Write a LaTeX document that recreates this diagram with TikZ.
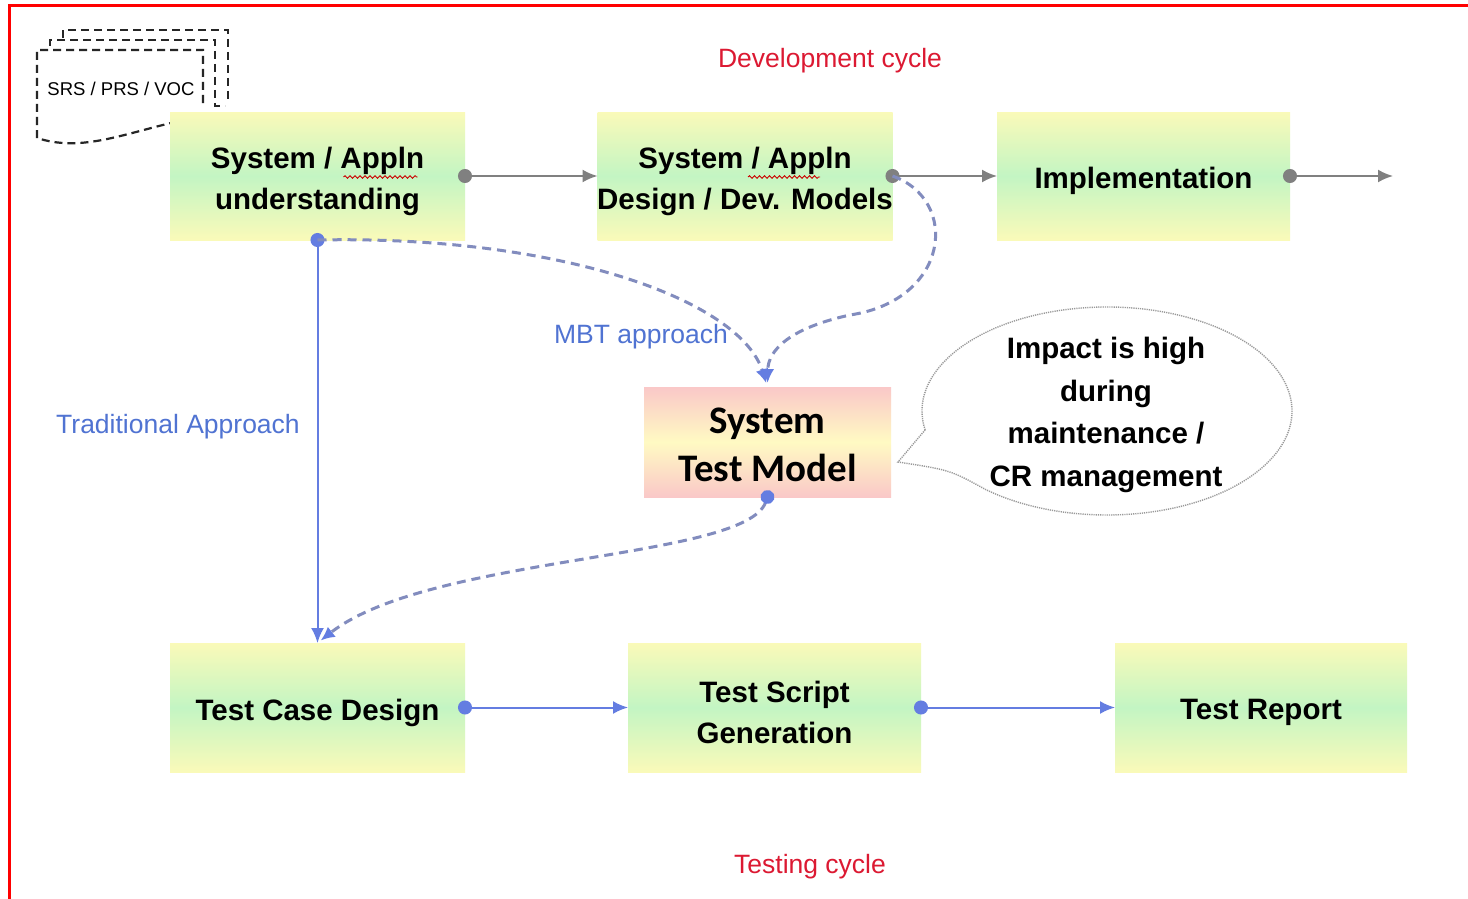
\documentclass[tikz,border=0pt]{standalone}
\usepackage{fontspec}
\setmainfont{Liberation Sans}
\newfontfamily\modelfont{Carlito}
\usetikzlibrary{arrows.meta,decorations.pathmorphing}

\definecolor{boxyel}{RGB}{250,250,185}
\definecolor{boxgrn}{RGB}{195,245,195}
\definecolor{modpink}{RGB}{250,200,200}
\definecolor{modyel}{RGB}{255,250,195}
\definecolor{devgray}{RGB}{128,128,128}
\definecolor{tstblue}{RGB}{100,125,225}
\definecolor{mbtdash}{RGB}{130,140,190}
\definecolor{lblblue}{RGB}{80,115,210}
\definecolor{cycred}{RGB}{220,25,50}

\begin{document}
\begin{tikzpicture}[x=1pt,y=-1pt]
\tikzset{ >=Latex, inner sep=0pt, outer sep=0pt,
  stage/.style={top color=boxyel, bottom color=boxyel, middle color=boxgrn,
    minimum width=295pt, minimum height=128pt},
  stagetext/.style={align=center, yshift=-5pt,
    font=\bfseries\fontsize{29.5}{41}\selectfont},
  model/.style={top color=modpink, bottom color=modpink, middle color=modyel,
    minimum width=247pt, minimum height=110pt},
  modeltext/.style={align=center, yshift=-3pt,
    font=\modelfont\bfseries\fontsize{39}{48}\selectfont},
  devarrow/.style={devgray, line width=2pt, shorten <=-7pt,
    {Circle[length=14pt]}-{Latex[length=15pt,width=13pt]}},
  tstarrow/.style={tstblue, line width=2pt, shorten <=-7pt,
    {Circle[length=14pt]}-{Latex[length=15pt,width=13pt]}},
  mbtpath/.style={mbtdash, line width=3pt, dash pattern=on 9pt off 6pt},
  docline/.style={black!85, line width=2.2pt, dash pattern=on 8pt off 5pt},
  spell/.style={red!80!black, line width=0.9pt,
    decorate, decoration={snake, amplitude=1.3pt, segment length=5pt}},
  cyclelabel/.style={cycred, font=\fontsize{26.5}{30}\selectfont},
  approachlabel/.style={lblblue, font=\fontsize{26.5}{30}\selectfont},
}
\useasboundingbox (0,0) rectangle (1468,899);
\fill[white] (0,0) rectangle (1468,899);
\draw[red, line width=3pt] (9,899) -- (9,6) -- (1468,6);

% documents
\draw[docline] (63,38) -- (63,30) -- (228,30) -- (228,100);
\draw[docline] (50,46) -- (50,40) -- (215,40) -- (215,106) -- (225,106);
\draw[docline] (203,103) -- (203,50) -- (37,50) -- (37,138)
  .. controls (80,152) and (120,135) .. (175,122);
\node [font=\fontsize{18.5}{22}\selectfont] (SRS) at (121,89) {SRS / PRS / VOC};

% development cycle
\node [stage, label={[stagetext]center:{System / Appln\\understanding}}] (SU) at (317.5,176) {};
\node [stage, label={[stagetext]center:{System / Appln\\Design / Dev. Models}}] (SD) at (745,176) {};
\node [stage, minimum width=293pt, label={[stagetext]center:Implementation}] (IM) at (1143.5,176) {};
\coordinate (NX) at (1393,176);

% testing cycle
\node [stage, minimum height=129pt, label={[stagetext]center:Test Case Design}] (TC) at (317.5,707.5) {};
\node [stage, minimum width=293pt, minimum height=129pt,
  label={[stagetext]center:{Test Script\\Generation}}] (TS) at (774.5,707.5) {};
\node [stage, minimum width=292pt, minimum height=129pt,
  label={[stagetext]center:Test Report}] (TR) at (1261,707.5) {};

\node [model, label={[modeltext]center:{System\\Test Model}}] (TM) at (767.5,442) {};

% spell check marks
\draw[spell] ([xshift=26pt,yshift=-1pt]SU.center) -- ++(74,0);
\draw[spell] ([xshift=3pt,yshift=-1pt]SD.center) -- ++(72,0);

\draw [devarrow] (SU) -- (SD);
\draw [devarrow] (SD) -- (IM);
\draw [devarrow] (IM) -- (NX);

\draw [tstarrow] (TC) -- (TS);
\draw [tstarrow] (TS) -- (TR);
\draw [tstarrow] (SU.south) -- (TC.north);

\draw [mbtpath, -{Latex[length=14pt,width=13pt,color=tstblue]}, shorten >=4pt]
  (SU.south) .. controls (560,235) and (740,300) .. (TM.north);
\draw [mbtpath, -{Latex[length=14pt,width=13pt,color=tstblue]}, shorten >=4pt]
  (SD.east) .. controls (960,200) and (950,300) .. (850,315)
  .. controls (790,328) and (768,350) .. (TM.north);
\draw [mbtpath, {Circle[length=14pt,color=tstblue]}-{Latex[length=14pt,width=13pt,color=tstblue]},
  shorten <=-7pt, shorten >=4pt]
  (TM.south) .. controls (745,560) and (430,555) .. (TC.north);

% callout
\node [align=center, font=\bfseries\fontsize{29.5}{42.5}\selectfont] (CO) at (1106,415)
  {Impact is high\\during\\maintenance /\\CR management};
\coordinate (TIP) at (898,462);
\draw [black!40, line width=1.4pt, dash pattern=on 1.2pt off 1pt]
  (1107,411) ++(169.5:185 and 104)
  arc [start angle=169.5, end angle=491, x radius=185, y radius=104]
  .. controls (950,470) .. (TIP) -- cycle;

\node [cyclelabel] (DC) at (830,61) {Development cycle};
\node [cyclelabel] (TCY) at (810,867) {Testing cycle};
\node [approachlabel] (MBT) at (641,337) {MBT approach};
\node [approachlabel] (TRA) at (178,427) {Traditional Approach};

\end{tikzpicture}
\end{document}
